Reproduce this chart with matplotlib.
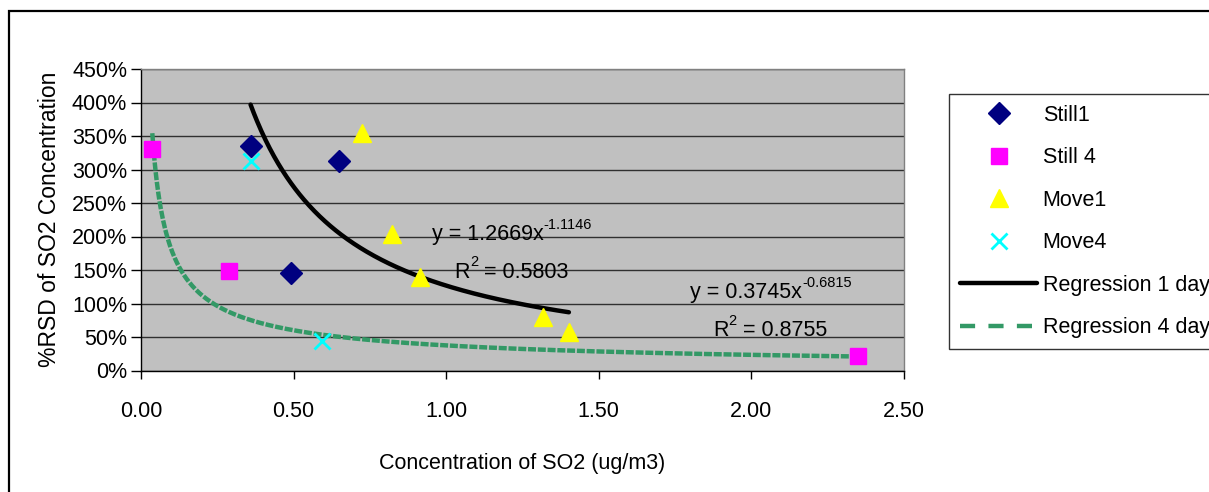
import matplotlib
matplotlib.use("Agg")
import matplotlib.pyplot as plt
import numpy as np
from matplotlib.lines import Line2D
from matplotlib.patches import Rectangle
from matplotlib.ticker import FuncFormatter

plt.rcParams['font.family'] = ['Liberation Sans', 'DejaVu Sans']

# Measured series: SO2 concentration (ug/m3) vs %RSD (fraction)
still1_x = [0.359, 0.649, 0.491]
still1_y = [3.35, 3.12, 1.45]
still4_x = [0.037, 0.289, 2.349]
still4_y = [3.31, 1.49, 0.216]
move1_x = [0.724, 0.822, 0.914, 1.316, 1.402]
move1_y = [3.54, 2.03, 1.40, 0.80, 0.57]
move4_x = [0.359, 0.592]
move4_y = [3.13, 0.44]

# Power-law fits y = a * x^b
fit1_a, fit1_b, fit1_r2 = 1.2669, -1.1146, 0.5803
fit4_a, fit4_b, fit4_r2 = 0.3745, -0.6815, 0.8755

x_ticks = [0.0, 0.5, 1.0, 1.5, 2.0, 2.5]
y_ticks = [0.0, 0.5, 1.0, 1.5, 2.0, 2.5, 3.0, 3.5, 4.0, 4.5]

FS = 15.5

W, H = 1209, 492
fig = plt.figure(figsize=(W / 100, H / 100), dpi=100)
fig.patch.set_facecolor('white')

# outer chart frame
fig.patches.append(Rectangle((9 / W, -0.1), 1.2, 1 - 11 / H + 0.1,
                             transform=fig.transFigure, fill=False,
                             edgecolor='black', linewidth=1.6, clip_on=False))

ax = fig.add_axes([141 / W, 1 - 370.5 / H, (904 - 141) / W, (370.5 - 69) / H])
ax.set_facecolor('#C0C0C0')
ax.set_xlim(0, 2.5)
ax.set_ylim(0, 4.5)
ax.set_xticks(x_ticks)
ax.set_yticks(y_ticks)
ax.xaxis.set_major_formatter(FuncFormatter(lambda v, p: f"{v:.2f}"))
ax.yaxis.set_major_formatter(FuncFormatter(lambda v, p: f"{v * 100:.0f}%"))
ax.grid(axis='y', color='#303030', linewidth=1.0)
ax.set_axisbelow(True)
for side in ['top', 'right']:
    ax.spines[side].set_color('#808080')
    ax.spines[side].set_linewidth(1.0)
for side in ['left', 'bottom']:
    ax.spines[side].set_color('black')
    ax.spines[side].set_linewidth(1.0)
ax.tick_params(axis='y', direction='out', length=7, width=1, pad=3, labelsize=FS)
ax.tick_params(axis='x', direction='out', length=6, width=1, pad=16, labelsize=FS)

# regression curves
xs1 = np.linspace(min(move4_x + still1_x), max(move1_x), 300)
ax.plot(xs1, fit1_a * xs1 ** fit1_b, color='black', linewidth=3.2,
        solid_capstyle='round', zorder=3)
xs4 = np.linspace(min(still4_x), max(still4_x), 600)
ax.plot(xs4, fit4_a * xs4 ** fit4_b, color='#339966', linewidth=3.2,
        dashes=(1.8, 0.4), dash_capstyle='butt', zorder=3)

# data series
ax.plot(still1_x, still1_y, linestyle='none', marker='D', markersize=11,
        color='#000080', zorder=4)
ax.plot(still4_x, still4_y, linestyle='none', marker='s', markersize=12,
        color='#FF00FF', zorder=4)
ax.plot(move1_x, move1_y, linestyle='none', marker='^', markersize=13,
        color='#FFFF00', zorder=4)
ax.plot(move4_x, move4_y, linestyle='none', marker='x', markersize=12,
        markeredgewidth=2, color='#00FFFF', zorder=4)


def power_label(x, y, a, b):
    """Draw 'y = a x' with the exponent b as a raised smaller text."""
    base = ax.text(x, y, f"y = {a}x", fontsize=FS, ha='left', va='center',
                   zorder=5)
    ax.annotate(f"{b}", xy=(1.0, 0.62), xycoords=base, fontsize=FS * 0.68,
                ha='left', va='bottom', zorder=5)


def r2_label(x, y, r2):
    base = ax.text(x, y, "R", fontsize=FS, ha='left', va='center', zorder=5)
    sup = ax.annotate("2", xy=(1.0, 0.62), xycoords=base, fontsize=FS * 0.68,
                      ha='left', va='bottom', zorder=5)
    ax.annotate(f" = {r2}", xy=(1.0, 0.0), xycoords=(sup, base),
                fontsize=FS, ha='left', va='bottom', zorder=5)


# fit equations
power_label(0.953, 2.03, fit1_a, fit1_b)
r2_label(1.028, 1.47, fit1_r2)
power_label(1.799, 1.17, fit4_a, fit4_b)
r2_label(1.874, 0.60, fit4_r2)

ax.set_xlabel("Concentration of SO2 (ug/m3)", fontsize=FS, labelpad=22.5)
ax.set_ylabel("%RSD of SO2 Concentration", fontsize=16.5, labelpad=8)

handles = [
    Line2D([], [], linestyle='none', marker='D', markersize=11, color='#000080'),
    Line2D([], [], linestyle='none', marker='s', markersize=12, color='#FF00FF'),
    Line2D([], [], linestyle='none', marker='^', markersize=13, color='#FFFF00'),
    Line2D([], [], linestyle='none', marker='x', markersize=12,
           markeredgewidth=2, color='#00FFFF'),
    Line2D([], [], color='black', linewidth=3.2, solid_capstyle='round'),
    Line2D([], [], color='#339966', linewidth=3.2, dashes=(3.4, 3.0)),
]
labels = ["Still1", "Still 4", "Move1", "Move4", "Regression 1 day", "Regression 4 day"]
leg = fig.legend(handles, labels, loc='upper left',
                 bbox_to_anchor=(949 / W, 1 - 94 / H), fontsize=FS,
                 frameon=True, fancybox=False, edgecolor='black',
                 handlelength=3.6, handletextpad=0.25, labelspacing=1.0,
                 borderpad=0.5, borderaxespad=0)
leg.get_frame().set_linewidth(1.0)

fig.savefig("out.png", dpi=100)
